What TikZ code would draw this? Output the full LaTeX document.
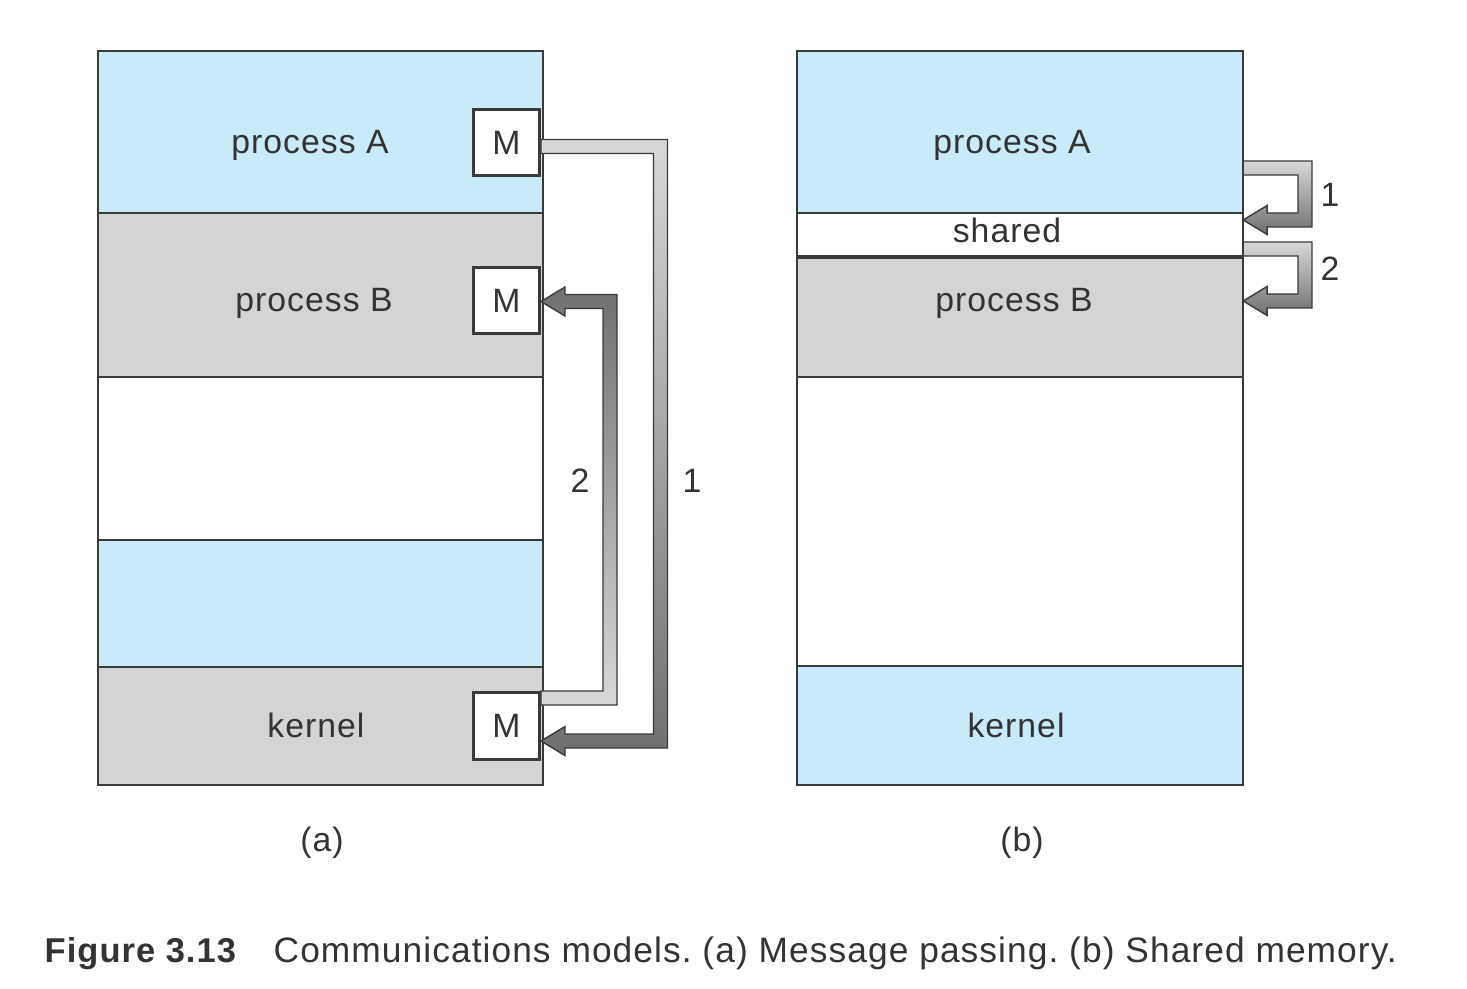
\documentclass[tikz,border=0pt]{standalone}
\usepackage{fontspec}
\setmainfont[LetterSpace=3]{Liberation Sans}
\usetikzlibrary{calc}
\frenchspacing

\definecolor{procblue}{RGB}{200,234,249}
\definecolor{procgray}{RGB}{211,212,214}
\definecolor{linecol}{RGB}{58,58,58}
\definecolor{textcol}{RGB}{51,51,51}
\definecolor{arrlight}{RGB}{216,216,217}
\definecolor{arrdark}{RGB}{110,111,113}

\newcommand{\bandw}{0.07cm}
\newcommand{\headw}{0.145cm}
\newcommand{\headl}{0.24cm}
% #2 from, #3 to, #4 x of the bend, #5 = 1 down / -1 up
\newcommand{\fatarrow}[5][]{%
  \path[fatarrow,#1] let \p1=(#2), \p2=(#3), \p3=(#4) in
    (\x1,{\y1+(#5)*\bandw}) -- ({\x3+\bandw},{\y1+(#5)*\bandw})
    -- ({\x3+\bandw},{\y2-(#5)*\bandw}) -- ({\x2+\headl},{\y2-(#5)*\bandw})
    -- ({\x2+\headl},{\y2-(#5)*\headw}) -- (\x2,\y2)
    -- ({\x2+\headl},{\y2+(#5)*\headw}) -- ({\x2+\headl},{\y2+(#5)*\bandw})
    -- ({\x3-\bandw},{\y2+(#5)*\bandw}) -- ({\x3-\bandw},{\y1-(#5)*\bandw})
    -- (\x1,{\y1-(#5)*\bandw}) -- cycle;}

\tikzset{
  row/.style={draw=linecol, line width=0.45pt, inner sep=0pt, outer sep=0pt},
  mbox/.style={draw=linecol, fill=white, line width=0.85pt, minimum size=0.66cm, inner sep=0pt, text=textcol, font=\fontsize{9.6}{11.5}\selectfont},
  lbl/.style={text=textcol, inner sep=0pt, font=\fontsize{9.6}{11.5}\selectfont},
  fatarrow/.style={draw=linecol, line width=0.4pt},
}

\begin{document}
\begin{tikzpicture}[x=0.01cm, y=-0.01cm]
  \useasboundingbox (0,0) rectangle (1467,988);

  % (a) message passing
  \node[row, fill=procblue, minimum width=4.45cm, minimum height=1.62cm] (lA) at (320.5,132) {};
  \node[row, fill=procgray, minimum width=4.45cm, minimum height=1.64cm] (lB) at (320.5,295) {};
  \node[row, fill=white, minimum width=4.45cm, minimum height=1.63cm] (lfree) at (320.5,458.5) {};
  \node[row, fill=procblue, minimum width=4.45cm, minimum height=1.27cm] (lblue) at (320.5,603.5) {};
  \node[row, fill=procgray, minimum width=4.45cm, minimum height=1.18cm] (lK) at (320.5,726) {};

  \node[lbl, anchor=base] (tlA) at (310,153) {process A};
  \node[lbl, anchor=base] (tlB) at (314,311) {process B};
  \node[lbl, anchor=base] (tlK) at (316,737) {kernel};

  \node[mbox] (mA) at (506.5,142.5) {M};
  \node[mbox] (mB) at (506.5,300.5) {M};
  \node[mbox] (mK) at (506.5,726) {M};

  \fatarrow[top color=arrlight, bottom color=arrdark]{[yshift=-0.04cm]mA.east}{[yshift=-0.15cm]mK.east}{660.5,0}{1}
  \fatarrow[top color=arrdark, bottom color=arrlight]{[yshift=0.28cm]mK.east}{[yshift=-0.01cm]mB.east}{610,0}{-1}

  \node[lbl, anchor=base] (n2a) at (580,492) {2};
  \node[lbl, anchor=base] (n1a) at (692,492) {1};

  \node[lbl, anchor=base] (capa) at (322,851) {(a)};

  % (b) shared memory
  \node[row, fill=procblue, minimum width=4.46cm, minimum height=1.62cm] (rA) at (1020,132) {};
  \node[row, fill=white, minimum width=4.46cm, minimum height=0.44cm] (rS) at (1020,235) {};
  \node[row, fill=procgray, minimum width=4.46cm, minimum height=1.20cm] (rB) at (1020,317) {};
  \node[row, fill=white, minimum width=4.46cm, minimum height=2.89cm] (rfree) at (1020,521.5) {};
  \node[row, fill=procblue, minimum width=4.46cm, minimum height=1.19cm] (rK) at (1020,725.5) {};
  \draw[linecol, line width=1.1pt] (rS.south west) -- (rS.south east);

  \node[lbl, anchor=base] (trA) at (1012,153) {process A};
  \node[lbl, anchor=base] (trS) at (1007,242) {shared};
  \node[lbl, anchor=base] (trB) at (1014,311) {process B};
  \node[lbl, anchor=base] (trK) at (1016,737) {kernel};

  \fatarrow[top color=arrlight, bottom color=arrdark]{[yshift=-0.36cm]rA.east}{[yshift=0.15cm]rS.east}{1305,0}{1}
  \fatarrow[top color=arrlight, bottom color=arrdark]{[yshift=-0.14cm]rS.east}{[yshift=0.16cm]rB.east}{1305,0}{1}

  \node[lbl, anchor=base] (n1b) at (1330,206) {1};
  \node[lbl, anchor=base] (n2b) at (1330,281) {2};

  \node[lbl, anchor=base] (capb) at (1022,851) {(b)};

  \node[lbl, anchor=base west, font=\fontsize{9.8}{11.8}\selectfont] (capfig) at (44,962) {\textbf{Figure 3.13}};
  \node[lbl, anchor=base west, font=\fontsize{10.05}{12.1}\selectfont] (caption) at (273,962) {Communications models. (a) Message passing. (b) Shared memory.};
\end{tikzpicture}
\end{document}
